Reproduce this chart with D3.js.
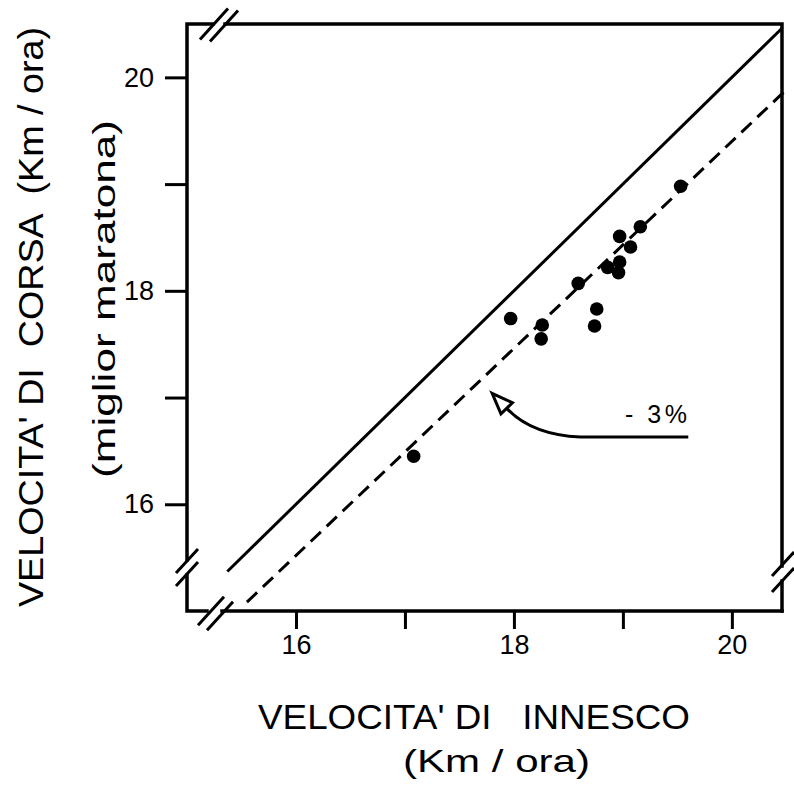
<!DOCTYPE html>
<html>
<head>
<meta charset="utf-8">
<script src="https://cdn.jsdelivr.net/npm/d3@7"></script>
<style>
    body { margin: 0; background: #fff; }
    text { font-family: "Liberation Sans", Arial, sans-serif; fill: #000; }
</style>
</head>
<body>
<svg id="chart" width="794" height="788"></svg>
<script>
// velocita' di innesco (x) vs velocita' di corsa, miglior maratona (y), km/ora
let innesco = [19.53, 19.16, 18.97, 19.07, 18.86, 18.97, 18.96, 18.59, 18.76, 18.74, 17.97, 18.26, 18.25, 17.08];
let corsa = [18.98, 18.60, 18.51, 18.41, 18.22, 18.27, 18.17, 18.07, 17.83, 17.67, 17.74, 17.68, 17.55, 16.45];

let tick_values = [16, 17, 18, 19, 20];
let tick_labels = ["16", "", "18", "", "20"];

// identity line and the -3% line
let identity_range = [15.37, 20.46];
let minus3_range = [15.55, 20.5];
let minus3_factor = 0.97;

// annotation arrow: tail, bend, tip (data units)
let arrow_x = [19.60, 18.61, 17.80];
let arrow_y = [16.63, 16.63, 17.04];

const svg = d3.select("#chart");

const plot_left = 187, plot_right = 782, plot_top = 24, plot_bottom = 611;

let x = d3.scaleLinear().domain([15, 20.46]).range([plot_left, plot_right]);
let y = d3.scaleLinear().domain([15, 20.5]).range([plot_bottom, plot_top]);

function create_chart() {

    // frame with the broken-axis gaps
    let frame = svg.append("g")
        .attr("fill", "none")
        .attr("stroke", "#000")
        .attr("stroke-width", 3.5)
        .attr("stroke-linecap", "square");

    let frame_lines = [
        [[plot_left, 560], [plot_left, plot_top], [213, plot_top]],
        [[225, plot_top], [plot_right, plot_top], [plot_right, 566]],
        [[plot_right, 581], [plot_right, plot_bottom]],
        [[plot_right, plot_bottom], [222, plot_bottom]],
        [[207, plot_bottom], [plot_left, plot_bottom], [plot_left, 575]]
    ];
    frame.selectAll("path")
        .data(frame_lines)
        .enter().append("path")
        .attr("d", d3.line());

    // break marks (double slashes)
    let breaks = [
        [214, 24, 14], [224, 26, 14],
        [plot_left, 561, 11], [plot_left, 574, 11],
        [211, 611, 13], [220, 616, 13],
        [783, 564, 11], [783, 580, 11]
    ];
    svg.append("g")
        .attr("stroke", "#000")
        .attr("stroke-width", 3)
        .selectAll("line")
        .data(breaks)
        .enter().append("line")
        .attr("x1", function (d) { return d[0] - d[2]; })
        .attr("y1", function (d) { return d[1] + d[2] * 1.1; })
        .attr("x2", function (d) { return d[0] + d[2]; })
        .attr("y2", function (d) { return d[1] - d[2] * 1.1; });

    // axes
    let x_axis = d3.axisBottom(x)
        .tickValues(tick_values)
        .tickFormat(function (d, i) { return tick_labels[i]; })
        .tickSize(18)
        .tickPadding(6);

    let gx = svg.append("g")
        .attr("transform", "translate(0," + plot_bottom + ")")
        .call(x_axis);

    let y_axis = d3.axisLeft(y)
        .tickValues(tick_values)
        .tickFormat(function (d, i) { return tick_labels[i]; })
        .tickSize(22)
        .tickPadding(11);

    let gy = svg.append("g")
        .attr("transform", "translate(" + plot_left + ",0)")
        .call(y_axis);

    [gx, gy].forEach(function (g) {
        g.select(".domain").remove();
        g.selectAll(".tick line").attr("stroke", "#000").attr("stroke-width", 3);
        g.selectAll(".tick text")
            .style("font-family", "'Liberation Sans', Arial, sans-serif")
            .style("font-size", "27px");
    });

    // identity line
    svg.append("line")
        .attr("x1", x(identity_range[0]))
        .attr("y1", y(identity_range[0]))
        .attr("x2", x(identity_range[1]))
        .attr("y2", y(identity_range[1]))
        .attr("stroke", "#000")
        .attr("stroke-width", 3);

    // -3% line
    svg.append("line")
        .attr("x1", x(minus3_range[0]))
        .attr("y1", y(minus3_range[0] * minus3_factor))
        .attr("x2", x(minus3_range[1]))
        .attr("y2", y(minus3_range[1] * minus3_factor))
        .attr("stroke", "#000")
        .attr("stroke-width", 3)
        .attr("stroke-dasharray", "14,8");

    // points
    svg.append("g")
        .selectAll("circle")
        .data(innesco)
        .enter().append("circle")
        .attr("cx", function (d) { return x(d); })
        .attr("cy", function (d, i) { return y(corsa[i]); })
        .attr("r", 6.8)
        .attr("fill", "#000");

    // arrow with open head
    let px = arrow_x.map(x), py = arrow_y.map(y);
    let dx = px[2] - px[1];
    let ux = -14.5 / 20.9, uy = -15 / 20.9;   // head direction
    let head_len = 21, head_w = 8;
    let bx = px[2] - ux * head_len, by = py[2] - uy * head_len;

    let curve = d3.path();
    curve.moveTo(px[0], py[0]);
    curve.lineTo(px[1], py[1]);
    curve.quadraticCurveTo(px[1] + dx * 0.55, py[1] - 2, bx, by);
    svg.append("path")
        .attr("d", curve.toString())
        .attr("fill", "none")
        .attr("stroke", "#000")
        .attr("stroke-width", 3);

    let head = [
        [px[2], py[2]],
        [bx - uy * head_w, by + ux * head_w],
        [bx + uy * head_w, by - ux * head_w]
    ];
    svg.append("path")
        .attr("d", d3.line()(head) + "Z")
        .attr("fill", "#fff")
        .attr("stroke", "#000")
        .attr("stroke-width", 3)
        .attr("stroke-linejoin", "miter");

    svg.append("text")
        .attr("x", 625)
        .attr("y", y(16.76))
        .attr("textLength", 62)
        .attr("lengthAdjust", "spacing")
        .style("font-size", "25px")
        .style("white-space", "pre")
        .text("- 3%");

    // axis titles
    svg.append("text")
        .attr("x", 258)
        .attr("y", 729)
        .attr("textLength", 432)
        .attr("lengthAdjust", "spacingAndGlyphs")
        .style("font-size", "35px")
        .style("white-space", "pre")
        .text("VELOCITA' DI   INNESCO");

    svg.append("text")
        .attr("x", 403)
        .attr("y", 772)
        .attr("textLength", 187)
        .attr("lengthAdjust", "spacingAndGlyphs")
        .style("font-size", "32px")
        .style("white-space", "pre")
        .text("(Km / ora)");

    svg.append("text")
        .attr("transform", "translate(43,607) rotate(-90)")
        .attr("x", 0)
        .attr("y", 0)
        .attr("textLength", 580)
        .attr("lengthAdjust", "spacingAndGlyphs")
        .style("font-size", "35px")
        .style("white-space", "pre")
        .text("VELOCITA' DI  CORSA  (Km / ora)");

    svg.append("text")
        .attr("transform", "translate(115,478) rotate(-90)")
        .attr("x", 0)
        .attr("y", 0)
        .attr("textLength", 358)
        .attr("lengthAdjust", "spacingAndGlyphs")
        .style("font-size", "31px")
        .style("white-space", "pre")
        .text("(miglior maratona)");
}

create_chart();
</script>
</body>
</html>
